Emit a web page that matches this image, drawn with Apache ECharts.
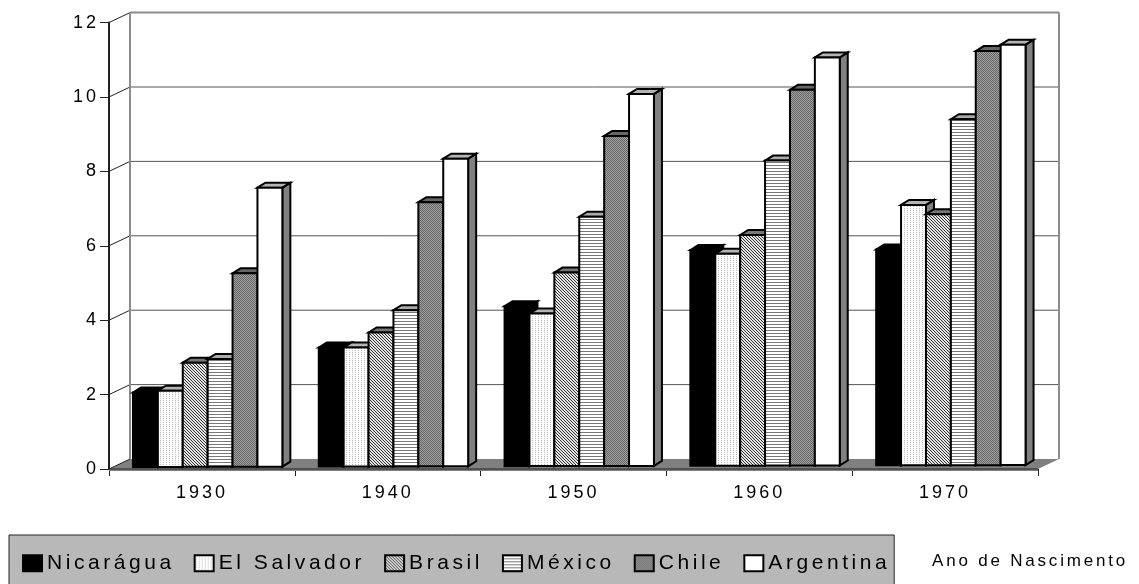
<!DOCTYPE html>
<html><head><meta charset="utf-8">
<style>html,body{margin:0;padding:0;background:#fff}#c{width:1139px;height:584px}</style>
<script src="https://cdn.jsdelivr.net/npm/echarts@6/dist/echarts.min.js"></script>
</head><body><div id="c"></div>
<script>
const categories = ['1930','1940','1950','1960','1970'];
const yTicks = [0,2,4,6,8,10,12];
const nicaragua = [2.0,3.2,4.3,5.8,5.8];
const elSalvador = [2.05,3.2,4.1,5.7,7.0];
const brasil = [2.8,3.6,5.2,6.2,6.75];
const mexico = [2.9,4.2,6.7,8.2,9.3];
const chile = [5.2,7.1,8.87,10.1,11.13];
const argentina = [7.5,8.27,10.0,10.97,11.3];
const xName = 'Ano de Nascimento';

// wide text tracking as in the original
const d = Object.getOwnPropertyDescriptor(CanvasRenderingContext2D.prototype,'font');
Object.defineProperty(CanvasRenderingContext2D.prototype,'font',{
  get(){return d.get.call(this);},
  set(v){d.set.call(this,v);const m=/([\d.]+)px/.exec(v);const s=m?+m[1]:0;
    this.letterSpacing=(s>=20?3.55:s>=18?3:s>=17?2.8:1.6)+'px';}
});
function tile(w,h,bg,fg,pts){const c=document.createElement('canvas');c.width=w;c.height=h;
  const x=c.getContext('2d');x.fillStyle=bg;x.fillRect(0,0,w,h);x.fillStyle=fg;
  pts.forEach(p=>x.fillRect(p[0],p[1],p[2]||1,p[3]||1));return {image:c,repeat:'repeat'};}
const pDots=tile(3,2,'#fff','#bcbcbc',[[1,0]]);
const pDiag=tile(3,3,'#e4e4e4','#333',[[0,0],[1,1],[2,2]]);
const pStripes=tile(3,3,'#fff','#777',[[0,0,3,1]]);
const pChile=tile(2,2,'#a0a0a0','#666',[[0,0],[1,1]]);

const defs=[
 {name:'Nicarágua',data:nicaragua,fill:'#000',top:'#000',side:'#000'},
 {name:'El Salvador',data:elSalvador,fill:pDots,top:'#b4b4b4',side:'#808080'},
 {name:'Brasil',data:brasil,fill:pDiag,top:'#777',side:'#808080'},
 {name:'México',data:mexico,fill:pStripes,top:'#aaa',side:'#808080'},
 {name:'Chile',data:chile,fill:pChile,top:'#666',side:'#666'},
 {name:'Argentina',data:argentina,fill:'#fff',top:'#b4b4b4',side:'#808080'}
];
const DX=21,DY=10;
function backdrop(params,api){
  const r=params.coordSys, L=r.x, R=r.x+r.width, v=api.value(0);
  const y=api.coord([0,v])[1];
  const kids=[];
  const ln=(a,b,c,e,col,w)=>kids.push({type:'line',shape:{x1:a,y1:b,x2:c,y2:e},style:{stroke:col,lineWidth:w}});
  if(v===0){
    kids.push({type:'polygon',shape:{points:[[L,y],[L+DX,y-DY],[R+DX,y-DY],[R,y],[R,y+2],[L,y+2]]},style:{fill:'#808080'}});
    ln(L,y,R,y,'#222',1);
  } else {
    ln(L+DX,y-DY,R+DX,y-DY,v===12?'#8c8c8c':'#555',v===12?2:1);
  }
  ln(L,y,L+DX,y-DY,'#222',1);
  if(v===12){ ln(L+DX,y-DY,L+DX,r.y+r.height-DY,'#8c8c8c',2); ln(R+DX,y-DY,R+DX,r.y+r.height-DY,'#8c8c8c',2); }
  return {type:'group',children:kids};
}
function barItem(idx,def){
  return function(params,api){
    const band=api.size([1,0])[0], c=api.value(0), p0=api.coord([c,0]), pv=api.coord([c,api.value(1)]);
    const r=params.coordSys;
    const w=band*0.134;
    const x=p0[0]-band*0.371+idx*w;
    const lift=2+2*(x-r.x)/r.width;
    const yb=p0[1]-lift, yt=pv[1]-lift, dx=8, dy=5;
    const st={stroke:'#000',lineWidth:2,lineJoin:'miter'};
    return {type:'group',children:[
      {type:'polygon',shape:{points:[[x+w,yb],[x+w+dx,yb-dy],[x+w+dx,yt-dy],[x+w,yt]]},style:{fill:def.side,...st}},
      {type:'polygon',shape:{points:[[x,yt],[x+dx,yt-dy],[x+w+dx,yt-dy],[x+w,yt]]},style:{fill:def.top,...st}},
      {type:'rect',shape:{x:x,y:yt,width:w,height:yb-yt},style:{fill:def.fill,...st}}
    ]};
  };
}
const series=[{type:'custom',name:'_wall',silent:true,z:1,coordinateSystem:'cartesian2d',
  data:yTicks.map(t=>[0,t]),encode:{x:0,y:1},renderItem:(p,a)=>backdrop(p,{value:()=>a.value(1),coord:a.coord})}];
defs.forEach((def,i)=>series.push({type:'custom',name:def.name,z:2+i,coordinateSystem:'cartesian2d',
  data:def.data.map((v,j)=>[j,v]),encode:{x:0,y:1},renderItem:barItem(i,def),
  itemStyle:{color:def.fill,borderColor:'#000',borderWidth:2}}));

const chart=echarts.init(document.getElementById('c'),null,{renderer:'canvas'});
chart.setOption({
  animation:false,backgroundColor:'#fff',
  textStyle:{fontFamily:'"Liberation Sans",Arial,sans-serif',color:'#000'},
  grid:{left:109,right:101,top:22.6,bottom:115,containLabel:false,outerBoundsMode:'none'},
  legend:{left:9,top:535,orient:'horizontal',width:900,padding:[16,4,22,13],itemGap:19,
    backgroundColor:'#b8b8b8',borderColor:'#222',borderWidth:1,borderRadius:0,
    itemWidth:19,itemHeight:16,icon:'rect',
    textStyle:{fontSize:21,color:'#000',fontFamily:'"Liberation Sans",Arial,sans-serif'},
    data:defs.map(d=>({name:d.name,icon:'rect',itemStyle:{color:d.fill,borderColor:'#000',borderWidth:2}}))},
  xAxis:{type:'category',data:categories,boundaryGap:true,offset:2,
    axisLine:{show:true,lineStyle:{color:'#222',width:1}},
    axisTick:{show:true,length:7,alignWithLabel:false,lineStyle:{color:'#222'}},
    axisLabel:{fontSize:18,color:'#000',margin:12},splitLine:{show:false},
    name:xName,nameLocation:'end',nameGap:-106,
    nameTextStyle:{fontSize:17,color:'#000',align:'left',verticalAlign:'top',padding:[82,0,0,0]}},
  yAxis:{type:'value',min:0,max:12,interval:2,
    axisLine:{show:true,lineStyle:{color:'#222',width:2}},
    axisTick:{show:true,length:9,lineStyle:{color:'#222'}},
    axisLabel:{fontSize:18,color:'#000',margin:10,padding:[0,0,4,0]},splitLine:{show:false}},
  series:series
});
</script></body></html>
